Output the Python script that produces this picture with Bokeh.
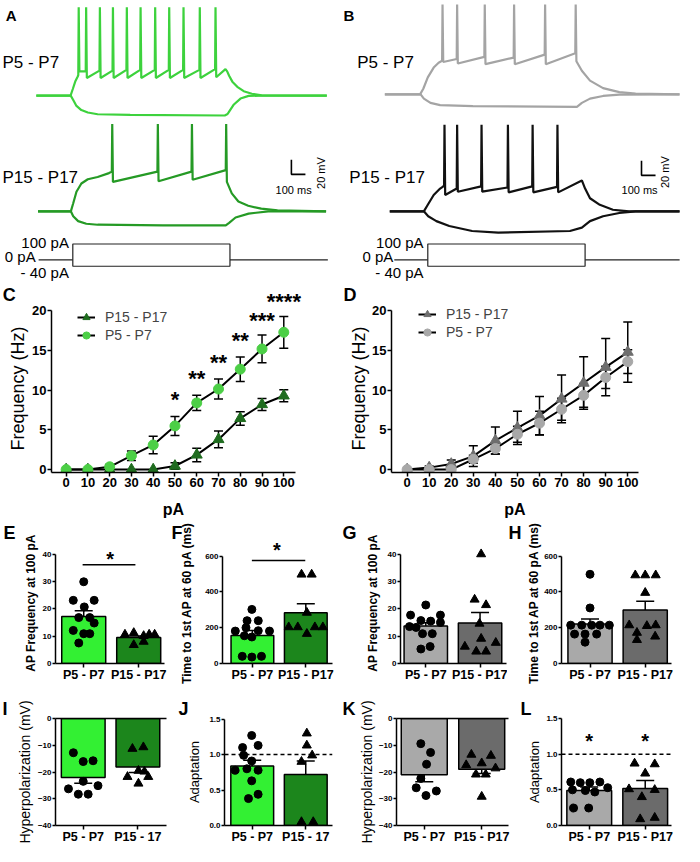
import math
from bokeh.plotting import figure
from bokeh.layouts import row, column
from bokeh.models import (Range1d, FixedTicker, Whisker, TeeHead, ColumnDataSource, Title,
                          Label, Legend, LegendItem, Span, PrintfTickFormatter, LinearAxis)
from bokeh.core.properties import value
from bokeh.embed import file_html
from bokeh.resources import INLINE

FONT = "Liberation Sans"
SX = 684 / 700
SY = 846 / 862

# ============================ DATA ============================
# A / B : example traces. time in ms from stimulus onset, potential in mV relative to rest
STIM_A = (0, 1120)
STIM_B = (9, 1130)
STIM_HI, STIM_LO = 100, -40
SCALE_MS, SCALE_MV = 100, 20

A_P5_PRE_T = [-260, -16, 0, 19, 35]
A_P5_PRE_V = [0, 0, 9, 20, 26]
A_P5_SPK_T = [42, 95, 193, 286, 385, 483, 587, 687, 789, 905, 1017]
A_P5_SPK_PRE = [28, 33, 34, 34, 35, 35, 35, 35, 35, 35, 36]
A_P5_SPK_POST = [33, 24, 24, 24, 24, 24, 24, 24, 24, 24, 25]
A_P5_PEAK = 120
A_P5_END_T = [1088, 1100, 1114, 1137, 1172, 1218, 1276, 1346, 1810]
A_P5_END_V = [36, 33, 27, 19, 12, 6, 2.5, 0.4, 0]
A_P5_HYP_T = [-260, -15, 3, 26, 61, 107, 177, 409, 1083, 1103, 1114, 1148, 1195, 1253, 1346, 1810]
A_P5_HYP_V = [0, 0, -6, -14, -19.6, -23, -25.3, -26.2, -27, -25, -21.8, -12, -4, -0.4, 0, 0]

A_P15_PRE_T = [-248, -14, 3, 26, 61, 107, 177, 258]
A_P15_PRE_V = [0, 0, 11, 26.7, 37.8, 43.6, 46.7, 52]
A_P15_SPK_T = [281, 606, 849, 1093]
A_P15_SPK_PRE = [54, 54, 54, 56]
A_P15_SPK_POST = [40, 41, 43, 40]
A_P15_PEAK = 118.7
A_P15_END_T = [1133, 1180, 1250, 1343, 1459, 1805]
A_P15_END_V = [24.4, 13.3, 7.6, 3.6, 1.3, 0]
A_P15_HYP_T = [-248, -14, 3, 38, 96, 177, 642, 1090, 1114, 1160, 1253, 1393, 1805]
A_P15_HYP_V = [0, 0, -6.7, -13.3, -16.9, -18.2, -19.1, -19.1, -15.6, -8.4, -3.1, 0, 0]

B_P5_PRE_T = [-297, -46, -23, 9, 51, 86, 105]
B_P5_PRE_V = [0, 0, 7.6, 23, 36.4, 43, 45]
B_P5_SPK_T = [114, 218, 415, 624, 845, 1063]
B_P5_SPK_PRE = [46, 48, 51, 50, 54, 56]
B_P5_SPK_POST = [44, 42, 41, 41, 41, 45]
B_P5_PEAK = 122
B_P5_END_T = [1107, 1165, 1258, 1374, 1490, 1803]
B_P5_END_V = [32, 18.7, 8.4, 3, 1, 0]
B_P5_HYP_T = [-297, -42, -19, 28, 97, 330, 1072, 1107, 1165, 1258, 1374, 1803]
B_P5_HYP_V = [0, 0, -5.8, -11.6, -14.7, -16, -16.9, -11.6, -5.8, -2.2, -0.4, 0]

B_P15_PRE_T = [-262, -19, 9, 51, 97, 120]
B_P15_PRE_V = [0, 0, 8.9, 22.2, 31, 34]
B_P15_SPK_T = [128, 218, 392, 580, 756, 933]
B_P15_SPK_PRE = [35.6, 31, 34, 32.4, 34, 33.3]
B_P15_SPK_POST = [22.2, 26.7, 26.7, 25.8, 25.8, 25.8]
B_P15_PEAK = 117.8
B_P15_END_T = [1107, 1130, 1165, 1235, 1328, 1444, 1803]
B_P15_END_V = [42, 31, 17.8, 8.9, 2.2, 0, 0]
B_P15_HYP_T = [-262, -19, 12, 70, 162, 325, 511, 1022, 1107, 1165, 1258, 1374, 1490, 1803]
B_P15_HYP_V = [0, 0, -6.7, -13.3, -20, -26.7, -28.9, -26.7, -22.2, -13.3, -6.7, -2.2, 0, 0]

# C / D : frequency vs injected current
CURRENT = [0, 10, 20, 30, 40, 50, 60, 70, 80, 90, 100]
C_P5_MEAN = [0, 0, 0.35, 1.75, 3.1, 5.5, 8.4, 10.15, 12.65, 15.2, 17.3]
C_P5_SEM = [0, 0, 0.3, 0.6, 1.1, 1.2, 0.95, 1.25, 1.55, 1.75, 2.0]
C_P15_MEAN = [0, 0, 0, 0, 0, 0.45, 1.85, 3.8, 6.45, 8.2, 9.3]
C_P15_SEM = [0, 0, 0, 0, 0, 0.4, 0.85, 1.05, 0.85, 0.75, 0.75]
C_SIG_X = [50, 60, 70, 80, 90, 100]
C_SIG_Y = [9.2, 11.8, 13.9, 16.7, 19.1, 21.5]
C_SIG = ["*", "**", "**", "**", "***", "****"]

D_P15_MEAN = [0, 0.25, 0.7, 1.7, 3.65, 5.25, 6.8, 8.9, 10.9, 12.9, 14.8]
D_P15_SEM = [0, 0.2, 0.5, 1.3, 1.7, 2.1, 2.4, 3.0, 3.3, 3.6, 3.8]
D_P5_MEAN = [0, 0, 0, 1.3, 2.65, 4.45, 5.85, 7.6, 9.35, 11.6, 13.6]
D_P5_SEM = [0, 0, 0, 0.5, 0.7, 1.0, 1.5, 1.4, 1.5, 1.4, 1.5]

# E-L : bar graphs (group 1 = P5-P7, group 2 = P15-P17)
GROUPS = [1, 2]
E_MEAN, E_SEM = [17.2, 9.5], [2.1, 0.6]
E_P5_JIT = [0, -0.19, 0.19, 0.01, -0.09, 0.11, 0.19, -0.19, 0.0, 0.11, -0.09]
E_P5 = [29.9, 23.1, 23.1, 20.7, 16.8, 16.8, 14.8, 12.1, 10.9, 10.9, 7.5]
E_P15_JIT = [-0.25, -0.09, 0.09, 0.19, 0.29, -0.09, 0.09]
E_P15 = [10.6, 11.2, 10.1, 10.6, 10.6, 6.8, 8.0]

F_MEAN, F_SEM = [157, 284], [27, 49]
F_P5_JIT = [-0.01, -0.10, 0.11, -0.32, -0.12, 0.11, 0.32, -0.15, -0.01, -0.19, -0.01, 0.17]
F_P5 = [302, 239, 239, 181, 200, 183, 181, 155, 148, 40, 36, 40]
F_P15_JIT = [-0.08, 0.11, 0.02, -0.32, -0.15, 0.17, 0.32, 0.02]
F_P15 = [497, 497, 284, 203, 203, 203, 203, 166]

G_MEAN, G_SEM = [13.7, 14.8], [1.2, 3.9]
G_P5_JIT = [0, -0.28, 0.27, -0.09, 0.09, 0.27, -0.30, -0.18, -0.06, 0.12, -0.09, 0.08]
G_P5 = [21.4, 17.7, 17.7, 15.7, 15.5, 15.0, 13.5, 13.2, 10.9, 10.9, 5.3, 6.2]
G_P15_JIT = [0.02, -0.10, 0.11, -0.01, 0.02, -0.28, 0.29, -0.07, 0.11]
G_P15 = [40, 23.4, 21.4, 14.6, 9.1, 6.2, 7.6, 4.4, 4.4]

H_MEAN, H_SEM = [221, 298], [28, 49]
H_P5_JIT = [0, 0, -0.35, -0.15, 0.03, 0.18, 0.35, -0.28, -0.09, 0.12, -0.09]
H_P5 = [498, 310, 214, 214, 214, 214, 214, 164, 164, 164, 119]
H_P15_JIT = [-0.18, 0, 0.19, 0, -0.29, 0.19, 0.03, -0.15, -0.15, 0.18]
H_P15 = [493, 493, 493, 395, 214, 214, 210, 172, 132, 151]

I_MEAN, I_SEM = [-22.1, -18.1], [2.1, 2.1]
I_P5_JIT = [-0.18, 0, 0.18, 0, -0.27, 0.27, -0.09, 0.09]
I_P5 = [-12.8, -16.1, -15.8, -23.5, -26.3, -25.1, -28.3, -28.3]
I_P15_JIT = [-0.10, 0.10, 0.01, 0.12, -0.19, 0.19, 0.01]
I_P15 = [-11.3, -10.7, -19.5, -19.8, -21.8, -21.8, -24.3]

J_MEAN, J_SEM = [0.84, 0.72], [0.08, 0.19]
J_P5_JIT = [-0.01, -0.18, 0.11, -0.16, -0.01, -0.32, -0.10, 0.11, -0.01, 0.11, -0.07]
J_P5 = [1.27, 1.10, 1.13, 0.99, 0.91, 0.78, 0.80, 0.78, 0.63, 0.44, 0.38]
J_P15_JIT = [0.02, 0.02, 0.12, -0.08, -0.08, 0.14]
J_P15 = [1.30, 1.13, 0.99, 0.90, 0.05, 0.05]

K_MEAN, K_SEM = [-21.0, -19.0], [2.6, 1.6]
K_P5_JIT = [-0.06, 0.11, 0.04, -0.06, -0.14, 0.21, 0.03]
K_P5 = [-9.4, -12.7, -17.1, -22.4, -25.9, -27.1, -28.8]
K_P15_JIT = [-0.18, 0.16, -0.27, 0.0, 0.24, -0.10, 0.07, 0.0]
K_P15 = [-13.5, -13.9, -17.4, -16.7, -18.6, -20.9, -20.9, -29.2]

L_MEAN, L_SEM = [0.49, 0.52], [0.05, 0.11]
L_P5_JIT = [-0.33, -0.16, 0.01, 0.19, 0.33, -0.30, -0.07, 0.10, -0.28, -0.01]
L_P5 = [0.61, 0.60, 0.60, 0.61, 0.53, 0.50, 0.49, 0.47, 0.245, 0.245]
L_P15_JIT = [-0.19, 0.17, 0.0, -0.29, 0.17, -0.06, -0.09, 0.17]
L_P15 = [0.87, 0.86, 0.73, 0.51, 0.50, 0.40, 0.09, 0.11]

# ============================ STYLE ============================
GREEN_TR_L, GREEN_TR_D = "#3dd23d", "#259a25"
GRAY_TR_L, GRAY_TR_D = "#a4a4a4", "#111111"
GREEN_BARS = ["#33f033", "#1c861c"]
GRAY_BARS = ["#a9a9a9", "#6b6b6b"]
ROW1_REF = 310          # boundary (reference px) between the trace row and the C/D row


def lin(a):
    (d0, r0), (d1, r1) = a
    k = (d1 - d0) / (r1 - r0)
    return lambda r: d0 + (r - r0) * k


def inv(a):
    (d0, r0), (d1, r1) = a
    k = (r1 - r0) / (d1 - d0)
    return lambda d: r0 + (d - d0) * k


class Panel:
    def __init__(self, cell, frame, xa, ya, axes=True):
        self.fx, self.fy = lin(xa), lin(ya)
        self.rx, self.ry = inv(xa), inv(ya)
        self.frame = frame
        cx, cy, cw, ch = cell
        l, t, r, b = frame
        L = round(l * SX) - cx
        R = round(r * SX) - cx
        T = round(t * SY) - cy
        B = round(b * SY) - cy
        kw = dict(width=cw, height=ch, output_backend="svg", toolbar_location=None,
                  x_range=Range1d(self.fx(l), self.fx(r)),
                  y_range=Range1d(self.fy(b), self.fy(t)),
                  min_border_left=L, min_border_right=cw - R,
                  min_border_top=T, min_border_bottom=ch - B,
                  outline_line_color=None, background_fill_color="white",
                  border_fill_color="white")
        if not axes:
            kw.update(x_axis_type=None, y_axis_type=None)
        self.p = figure(**kw)
        if axes:
            self.p.xgrid.visible = False
            self.p.ygrid.visible = False

    def label(self, rx, ry, text, size, bold=False, align="left", angle=0.0, color="black"):
        self.p.add_layout(Label(x=self.fx(rx), y=self.fy(ry), text=text, text_font=FONT,
                                text_font_size=f"{size}px",
                                text_font_style="bold" if bold else "normal",
                                text_align=align, text_baseline="middle", angle=angle,
                                text_color=color))

    def letter(self, text, left_ref):
        off = round(left_ref * SX) - round(self.frame[0] * SX)
        self.p.add_layout(Title(text=text, align="left", offset=off, standoff=0,
                                text_font=FONT, text_font_size="18px",
                                text_font_style="bold", text_color="black"), "above")


def style_axis(ax, size, bold=True, tick_out=3, standoff=0):
    ax.axis_line_width = 1.5
    ax.axis_line_color = "black"
    ax.major_tick_line_width = 1.5
    ax.major_tick_line_color = "black"
    ax.major_tick_out = tick_out
    ax.major_tick_in = 0
    ax.minor_tick_line_color = None
    ax.major_label_text_font = FONT
    ax.major_label_text_font_size = f"{size}px"
    ax.major_label_text_font_style = "bold" if bold else "normal"
    ax.major_label_text_color = "black"
    ax.major_label_standoff = standoff


def axis_title(ax, text, size, bold, standoff):
    ax.axis_label = text
    ax.axis_label_text_font = FONT
    ax.axis_label_text_font_size = f"{size}px"
    ax.axis_label_text_font_style = "bold" if bold else "normal"
    ax.axis_label_text_color = "black"
    ax.axis_label_standoff = standoff


def add_err(p, xs, means, sems, head, lw=1.5):
    keep = [(x, m, s) for x, m, s in zip(xs, means, sems) if s > 0]
    src = ColumnDataSource(dict(x=[k[0] for k in keep],
                                up=[k[1] + k[2] for k in keep],
                                lo=[k[1] - k[2] for k in keep]))
    p.add_layout(Whisker(source=src, base="x", upper="up", lower="lo",
                         line_width=lw, line_color="black",
                         upper_head=TeeHead(size=head, line_width=lw, line_color="black"),
                         lower_head=TeeHead(size=head, line_width=lw, line_color="black")))


def build_trace(pre_t, pre_v, spk_t, spk_pre, spk_post, peak, end_t, end_v):
    t, v = list(pre_t), list(pre_v)
    for ts, a, b in zip(spk_t, spk_pre, spk_post):
        t += [ts - 3, ts, ts + 5]
        v += [a, peak, b]
    return t + list(end_t), v + list(end_v)


# ============================ A / B ============================
def trace_panel(cell, frame, xa, top_a, low_a, stim_a, top_dep, top_hyp, low_dep, low_hyp,
                c_top, c_low, stim, stim_ext_ref, sb_ref, txt):
    P = Panel(cell, frame, xa, top_a, axes=False)
    p = P.p
    l, t, r, b = frame
    fl, fs = lin(low_a), lin(stim_a)
    p.extra_y_ranges = {"low": Range1d(fl(b), fl(t)), "stim": Range1d(fs(b), fs(t))}
    p.line(top_hyp[0], top_hyp[1], color=c_top, line_width=2.2)
    p.line(top_dep[0], top_dep[1], color=c_top, line_width=2.2)
    p.line(low_hyp[0], low_hyp[1], color=c_low, line_width=2.2, y_range_name="low")
    p.line(low_dep[0], low_dep[1], color=c_low, line_width=2.2, y_range_name="low")
    x_left, x_right = P.fx(stim_ext_ref[0]), P.fx(stim_ext_ref[1])
    p.segment(x0=[x_left, stim[1]], y0=[0, 0], x1=[stim[0], x_right], y1=[0, 0],
              line_color="#222222", line_width=1.2, y_range_name="stim")
    p.quad(left=[stim[0]], right=[stim[1]], bottom=[STIM_LO], top=[STIM_HI],
           fill_color="white", line_color="#222222", line_width=1.2, y_range_name="stim")
    t0, v0 = P.fx(sb_ref[0]), fl(sb_ref[1])
    p.line([t0, t0, t0 + SCALE_MS], [v0 + SCALE_MV, v0, v0], color="black",
           line_width=1.6, y_range_name="low")
    for args, kw in txt:
        P.label(*args, **kw)
    return P


A_top_dep = build_trace(A_P5_PRE_T, A_P5_PRE_V, A_P5_SPK_T, A_P5_SPK_PRE, A_P5_SPK_POST,
                        A_P5_PEAK, A_P5_END_T, A_P5_END_V)
A_low_dep = build_trace(A_P15_PRE_T, A_P15_PRE_V, A_P15_SPK_T, A_P15_SPK_PRE, A_P15_SPK_POST,
                        A_P15_PEAK, A_P15_END_T, A_P15_END_V)
B_top_dep = build_trace(B_P5_PRE_T, B_P5_PRE_V, B_P5_SPK_T, B_P5_SPK_PRE, B_P5_SPK_POST,
                        B_P5_PEAK, B_P5_END_T, B_P5_END_V)
B_low_dep = build_trace(B_P15_PRE_T, B_P15_PRE_V, B_P15_SPK_T, B_P15_SPK_PRE, B_P15_SPK_POST,
                        B_P15_PEAK, B_P15_END_T, B_P15_END_V)

PX_MS = 0.1436
PV_MV = 0.75
ROW1_H = round(ROW1_REF * SY)
ROW2_H = 520 - ROW1_H

PA = trace_panel((0, 0, 342, ROW1_H), (0, 0, 350, ROW1_REF),
                 ((0, 74), (1000, 74 + 1000 * PX_MS)),
                 ((0, 97), (20, 97 - 20 * PV_MV)),
                 ((0, 215), (20, 215 - 20 * PV_MV)),
                 ((STIM_HI, 248.3), (STIM_LO, 271)),
                 A_top_dep, (A_P5_HYP_T, A_P5_HYP_V), A_low_dep, (A_P15_HYP_T, A_P15_HYP_V),
                 GREEN_TR_L, GREEN_TR_D, STIM_A, (39, 335), (297.7, 177.3),
                 [((11, 15, "A"), dict(size=15, bold=True, align="center")),
                  ((2, 63, "P5 - P7"), dict(size=17)),
                  ((2, 180, "P15 - P17"), dict(size=17)),
                  ((70, 247, "100 pA"), dict(size=15, align="right")),
                  ((36, 261, "0 pA"), dict(size=15, align="right")),
                  ((70, 277, "- 40 pA"), dict(size=15, align="right")),
                  ((300, 193, "100 ms"), dict(size=11, align="center")),
                  ((328, 176, "20 mV"), dict(size=11, align="center", angle=math.pi / 2)),
                  ((9, 300, "C"), dict(size=18, bold=True, align="center"))])

PB = trace_panel((342, 0, 342, ROW1_H), (350, 0, 700, ROW1_REF),
                 ((0, 436), (1000, 436 + 1000 * PX_MS)),
                 ((0, 95.7), (20, 95.7 - 20 * PV_MV)),
                 ((0, 215), (20, 215 - 20 * PV_MV)),
                 ((STIM_HI, 248.3), (STIM_LO, 271)),
                 B_top_dep, (B_P5_HYP_T, B_P5_HYP_V), B_low_dep, (B_P15_HYP_T, B_P15_HYP_V),
                 GRAY_TR_L, GRAY_TR_D, STIM_B, (403, 695), (656, 178.3),
                 [((351, 15, "B"), dict(size=15, bold=True, align="left")),
                  ((365, 63, "P5 - P7"), dict(size=17)),
                  ((357, 180, "P15 - P17"), dict(size=17)),
                  ((433, 247, "100 pA"), dict(size=15, align="right")),
                  ((402, 261, "0 pA"), dict(size=15, align="right")),
                  ((433, 277, "- 40 pA"), dict(size=15, align="right")),
                  ((654, 193, "100 ms"), dict(size=11, align="center")),
                  ((680, 175, "20 mV"), dict(size=11, align="center", angle=math.pi / 2)),
                  ((351, 300, "D"), dict(size=18, bold=True, align="left"))])


# ============================ C / D ============================
def fi_panel(cell, frame, xa, ya, s15, s5, col15, col5, lab_standoff, legend_loc, sig=None):
    P = Panel(cell, frame, xa, ya)
    p = P.p
    style_axis(p.xaxis[0], 13, tick_out=4, standoff=1)
    style_axis(p.yaxis[0], 13, tick_out=4, standoff=1)
    p.xaxis.ticker = FixedTicker(ticks=CURRENT)
    p.yaxis.ticker = FixedTicker(ticks=[0, 5, 10, 15, 20])
    p.yaxis.bounds = (P.fy(frame[3]), 20)
    axis_title(p.yaxis[0], "Frequency (Hz)", 18, False, lab_standoff)
    axis_title(p.xaxis[0], "pA", 16, True, 11)
    l15 = p.line(CURRENT, s15[0], color="black", line_width=2)
    l5 = p.line(CURRENT, s5[0], color="black", line_width=2)
    m15 = p.scatter(CURRENT, s15[0], marker="triangle", size=11, color=col15)
    m5 = p.scatter(CURRENT, s5[0], marker="circle", size=10, color=col5)
    add_err(p, CURRENT, s15[0], s15[1], 9)
    add_err(p, CURRENT, s5[0], s5[1], 9)
    leg = Legend(items=[LegendItem(label="P15 - P17", renderers=[l15, m15]),
                        LegendItem(label="P5 - P7", renderers=[l5, m5])],
                 location=legend_loc, background_fill_alpha=0, border_line_color=None,
                 label_text_font=FONT, label_text_font_size="14px", glyph_width=18,
                 glyph_height=18, label_height=18, spacing=0, padding=0, margin=0,
                 label_standoff=10)
    p.add_layout(leg)
    if sig is not None:
        inside = [(x, y, s) for x, y, s in zip(*sig) if P.ry(y) - 7 > frame[1]]
        above = [(x, y, s) for x, y, s in zip(*sig) if P.ry(y) - 7 <= frame[1]]
        p.text(x=[a[0] for a in inside], y=[a[1] for a in inside], text=[a[2] for a in inside],
               text_font=value(FONT), text_font_size="22px", text_font_style="bold",
               text_align="center", text_baseline="middle", y_offset=3, text_color="black")
        for x, y, s in above:   # falls in the region drawn by the trace panel above
            PA.label(P.rx(x), P.ry(y) + 3, s, 22, bold=True, align="center")
    return P


PC = fi_panel((0, ROW1_H, 342, ROW2_H), (52, ROW1_REF, 302, 482), ((0, 67), (100, 290)),
              ((0, 479), (20, 316.5)), (C_P15_MEAN, C_P15_SEM), (C_P5_MEAN, C_P5_SEM),
              "#1f6c1f", "#4ccf46", 1, (26, 128), sig=(C_SIG_X, C_SIG_Y, C_SIG))
PD = fi_panel((342, ROW1_H, 342, ROW2_H), (400, ROW1_REF, 653, 484), ((0, 416), (100, 642)),
              ((0, 481), (20, 316.5)), (D_P15_MEAN, D_P15_SEM), (D_P5_MEAN, D_P5_SEM),
              "#6e6e6e", "#a8a8a8", 0, (27, 131))


# ============================ E - L ============================
def bar_panel(cell, frame, xa, ya, yticks, ybounds, mean, sem, p5, p15, colors, cats,
              ytitle, yt_size, yt_bold, yt_standoff, letter, letter_left, negative=False,
              fmt=None, tick_size=8):
    P = Panel(cell, frame, xa, ya)
    p = P.p
    style_axis(p.xaxis[0], 12.5, tick_out=4, standoff=0)
    style_axis(p.yaxis[0], tick_size, tick_out=3, standoff=1)
    p.xaxis.ticker = FixedTicker(ticks=GROUPS)
    p.xaxis.major_label_overrides = {1: cats[0], 2: cats[1]}
    p.yaxis.ticker = FixedTicker(ticks=yticks)
    if ybounds is not None:
        p.yaxis.bounds = ybounds
    if fmt:
        p.yaxis.formatter = PrintfTickFormatter(format=fmt)
    axis_title(p.yaxis[0], ytitle, yt_size, yt_bold, yt_standoff)
    if negative:
        p.vbar(x=GROUPS, top=[0, 0], bottom=mean, width=0.8, fill_color=colors,
               line_color="black", line_width=1.5)
        top_ax = LinearAxis(ticker=FixedTicker(ticks=[]), axis_line_width=1.5,
                            major_label_text_font_size="0px", major_tick_line_color=None,
                            minor_tick_line_color=None)
        p.add_layout(top_ax, "above")
    else:
        p.vbar(x=GROUPS, top=mean, bottom=0, width=0.8, fill_color=colors,
               line_color="black", line_width=1.5)
    p.scatter([1 + j for j in p5[0]], p5[1], marker="circle", size=8, color="black")
    p.scatter([2 + j for j in p15[0]], p15[1], marker="triangle", size=9, color="black")
    add_err(p, GROUPS, mean, sem, 18)
    P.letter(letter, letter_left)
    return P


CATS = ["P5 - P7", "P15 - P17"]
CATS_IJ = ["P5 - P7", "P15 - 17"]
ROW3, ROW4 = 520, 684
GH_SPLIT = round(519 * SX)          # G | H cell boundary (H letter sits left of H's quarter)

PE = bar_panel((0, ROW3, 171, 164), (56, 552, 168, 676.7), ((1, 85), (2, 141.5)), ((0, 676.7), (40, 564)),
               [0, 10, 20, 30, 40], (0, 40), E_MEAN, E_SEM, (E_P5_JIT, E_P5), (E_P15_JIT, E_P15),
               GREEN_BARS, CATS, "AP Frequency at 100 pA", 12, True, 2, "E", 3)
PE.p.segment(x0=[0.98], y0=[36.1], x1=[1.94], y1=[36.1], line_color="black", line_width=1.5)
PE.p.text(x=[1.48], y=[39.3], text=["*"], text_font=value(FONT), text_font_size="20px",
          text_font_style="bold", text_align="center", text_baseline="middle", y_offset=3)

PF = bar_panel((171, ROW3, 171, 164), (226.7, 552, 340, 677.3), ((1, 257.5), (2, 312.5)),
               ((0, 677.3), (600, 566)), [0, 200, 400, 600], (0, 600), F_MEAN, F_SEM,
               (F_P5_JIT, F_P5), (F_P15_JIT, F_P15), GREEN_BARS, CATS,
               "Time to 1st AP at 60 pA (ms)", 12, True, 8, "F", 175)
PF.p.segment(x0=[0.99], y0=[575], x1=[1.99], y1=[575], line_color="black", line_width=1.5)
PF.p.text(x=[1.46], y=[648], text=["*"], text_font=value(FONT), text_font_size="20px",
          text_font_style="bold", text_align="center", text_baseline="middle", y_offset=3)

PG = bar_panel((342, ROW3, GH_SPLIT - 342, 164), (409, 552, 518, 676.7), ((1, 435), (2, 490.8)),
               ((0, 676.7), (40, 564)), [0, 10, 20, 30, 40], (0, 40), G_MEAN, G_SEM,
               (G_P5_JIT, G_P5), (G_P15_JIT, G_P15), GRAY_BARS, CATS,
               "AP Frequency at 100 pA", 12, True, 5, "G", 350)

PH = bar_panel((GH_SPLIT, ROW3, 684 - GH_SPLIT, 164), (574, 552, 687, 677.3), ((1, 603.3), (2, 660)),
               ((0, 677.3), (600, 566)), [0, 200, 400, 600], (0, 600), H_MEAN, H_SEM,
               (H_P5_JIT, H_P5), (H_P15_JIT, H_P15), GRAY_BARS, CATS,
               "Time to 1st AP at 60 pA (ms)", 12, True, 0, "H", 520)

PI = bar_panel((0, ROW4, 171, 162), (56.7, 731.7, 170, 843.3), ((1, 85), (2, 140.8)),
               ((0, 731.7), (-40, 843.3)), [0, -10, -20, -30, -40], None, I_MEAN, I_SEM,
               (I_P5_JIT, I_P5), (I_P15_JIT, I_P15), GREEN_BARS, CATS_IJ,
               "Hyperpolarization (mV)", 14, False, 2, "I", 2, negative=True)

PJ = bar_panel((171, ROW4, 171, 162), (229, 731, 340, 842.7), ((1, 257.5), (2, 312.5)),
               ((0, 842.7), (1.5, 731.7)), [0, 0.5, 1.0, 1.5], (0, 1.5), J_MEAN, J_SEM,
               (J_P5_JIT, J_P5), (J_P15_JIT, J_P15), GREEN_BARS, CATS_IJ,
               "Adaptation", 13, False, 4, "J", 182, fmt="%.1f")
PJ.p.add_layout(Span(location=1.0, dimension="width", line_color="black", line_width=1.5,
                     line_dash="4 3"))

PK = bar_panel((342, ROW4, 171, 162), (405, 730, 520, 843.3), ((1, 433.5), (2, 492.5)),
               ((0, 730), (-40, 843.3)), [0, -10, -20, -30, -40], None, K_MEAN, K_SEM,
               (K_P5_JIT, K_P5), (K_P15_JIT, K_P15), GRAY_BARS, CATS,
               "Hyperpolarization (mV)", 14, False, 1, "K", 350, negative=True)

PL = bar_panel((513, ROW4, 171, 162), (574, 731, 687, 843.3), ((1, 602.5), (2, 660)),
               ((0, 843.3), (1.5, 731)), [0, 0.5, 1.0, 1.5], (0, 1.5), L_MEAN, L_SEM,
               (L_P5_JIT, L_P5), (L_P15_JIT, L_P15), GRAY_BARS, CATS,
               "Adaptation", 13, False, 1, "L", 532, fmt="%.1f")
PL.p.add_layout(Span(location=1.0, dimension="width", line_color="black", line_width=1.5,
                     line_dash="4 3"))
PL.p.text(x=GROUPS, y=[1.227, 1.227], text=["*", "*"], text_font=value(FONT),
          text_font_size="20px", text_font_style="bold", text_align="center",
          text_baseline="middle", y_offset=3)

layout = column(row(PA.p, PB.p), row(PC.p, PD.p),
                row(PE.p, PF.p, PG.p, PH.p), row(PI.p, PJ.p, PK.p, PL.p))

open("out.html", "w").write(file_html(layout, INLINE, title="Figure"))
